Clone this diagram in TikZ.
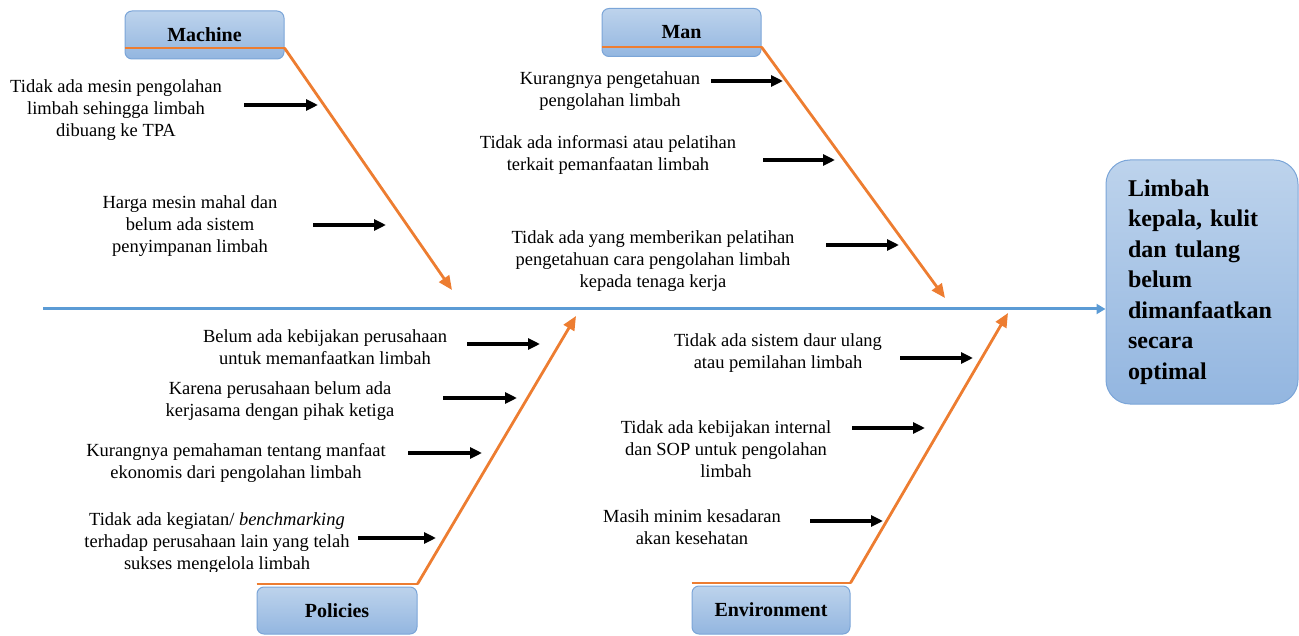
\documentclass[tikz,border=0pt]{standalone}
\usepackage{fontspec}
\setmainfont{Liberation Serif}
\newfontfamily\causefont{Liberation Serif}
\usetikzlibrary{arrows.meta}
\definecolor{boneOrange}{HTML}{ED7D31}
\definecolor{spineBlue}{HTML}{5B9BD5}
\definecolor{boxTop}{HTML}{BDD3EC}
\definecolor{boxBot}{HTML}{93B6E0}
\definecolor{boxLine}{HTML}{7BA5D8}
\begin{document}
\begin{tikzpicture}[x=1pt,y=-1pt,
  catbox/.style={draw=boxLine, line width=1pt, rounded corners=7pt, top color=boxTop, bottom color=boxBot,
    minimum width=159pt, minimum height=48pt, inner sep=0pt, font=\causefont\fontsize{20}{24}\selectfont\bfseries},
  effectbox/.style={draw=boxLine, line width=1pt, rounded corners=24pt, top color=boxTop, bottom color=boxBot,
    minimum width=190pt, minimum height=244pt, inner xsep=22pt, inner ysep=0pt, text width=148pt, align=left,
    font=\causefont\fontsize{24}{30.5}\selectfont\bfseries},
  cause/.style={align=center, inner sep=0pt, font=\causefont\fontsize{18.5}{22}\selectfont},
  bonebar/.style={draw=boneOrange, line width=2.8pt},
  bone/.style={draw=boneOrange, line width=2.8pt, -{Triangle[length=14pt,width=12pt]}},
  spine/.style={draw=spineBlue, line width=3pt, -{Triangle[length=9pt,width=10pt]}},
  causearrow/.style={draw=black, line width=3.2pt, -{Triangle[length=12pt,width=11pt]}}
]
\useasboundingbox (0,0) rectangle (1299,636);

% effect
\node[effectbox] (effect) at (1202,282) {Limbah\\kepala, kulit\\dan tulang\\belum\\dimanfaatkan\\secara\\optimal};

% spine
\coordinate (sp) at (43,309);
\draw[spine] (sp) -- (sp -| effect.west);

% category boxes
\node[catbox] (machine) at (204.5,35) {Machine};
\node[catbox] (man) at (681.5,32.5) {Man};
\node[catbox, minimum width=160pt, minimum height=47pt] (policies) at (337,610.5) {Policies};
\node[catbox, minimum width=158pt] (environment) at (771,610) {Environment};

% bone heads
\coordinate (machineHead) at (452,290);
\coordinate (manHead) at (945,298);
\coordinate (policiesHead) at (576,316);
\coordinate (environmentHead) at (1008,313);

% bones
\draw[bonebar] (machine.west |- 0,48) -- (machine.east |- 0,48);
\draw[bone] (machine.east |- 0,48) -- (machineHead);
\draw[bonebar] (man.west |- 0,47) -- (man.east |- 0,47);
\draw[bone] (man.east |- 0,47) -- (manHead);
\draw[bonebar] (policies.west |- 0,584) -- (policies.east |- 0,584);
\draw[bone] (policies.east |- 0,584) -- (policiesHead);
\draw[bonebar] (environment.west |- 0,583) -- (environment.east |- 0,583);
\draw[bone] (environment.east |- 0,583) -- (environmentHead);

% causes: Machine
\node[cause] (m1) at (116,110) {Tidak ada mesin pengolahan\\limbah sehingga limbah\\dibuang ke TPA};
\node[cause] (m2) at (190,226.5) {Harga mesin mahal dan\\belum ada sistem\\penyimpanan limbah};
% causes: Man
\node[cause] (n1) at (610,91) {Kurangnya pengetahuan\\pengolahan limbah};
\node[cause] (n2) at (608,155) {Tidak ada informasi atau pelatihan\\terkait pemanfaatan limbah};
\begin{scope}
  \clip (400,200) rectangle (900,291);
  \node[cause] (n3) at (653,261) {Tidak ada yang memberikan pelatihan\\pengetahuan cara pengolahan limbah\\kepada tenaga kerja};
\end{scope}
% causes: Policies
\node[cause] (p1) at (325,347.5) {Belum ada kebijakan perusahaan\\untuk memanfaatkan limbah};
\node[cause] (p2) at (280,401) {Karena perusahaan belum ada\\kerjasama dengan pihak ketiga};
\node[cause] (p3) at (236,463) {Kurangnya pemahaman tentang manfaat\\ekonomis dari pengolahan limbah};
\begin{scope}
  \clip (0,500) rectangle (400,571);
  \node[cause] (p4) at (217,543) {Tidak ada kegiatan/ \textit{benchmarking}\\terhadap perusahaan lain yang telah\\sukses mengelola limbah};
\end{scope}
% causes: Environment
\node[cause] (e1) at (778,353) {Tidak ada sistem daur ulang\\atau pemilahan limbah};
\node[cause] (e2) at (726,449) {Tidak ada kebijakan internal\\dan SOP untuk pengolahan\\limbah};
\node[cause] (e3) at (692,527) {Masih minim kesadaran\\akan kesehatan};

% cause arrows
\coordinate (m1s) at (244,105); \coordinate (m1e) at (318,105);
\coordinate (m2s) at (313,225); \coordinate (m2e) at (386,225);
\coordinate (n1s) at (711,81);  \coordinate (n1e) at (783,81);
\coordinate (n2s) at (763,160); \coordinate (n2e) at (835,160);
\coordinate (n3s) at (826,245); \coordinate (n3e) at (899,245);
\coordinate (p1s) at (467,344); \coordinate (p1e) at (540,344);
\coordinate (p2s) at (443,398); \coordinate (p2e) at (517,398);
\coordinate (p3s) at (408,453); \coordinate (p3e) at (482,453);
\coordinate (p4s) at (358,538); \coordinate (p4e) at (436,538);
\coordinate (e1s) at (900,358); \coordinate (e1e) at (973,358);
\coordinate (e2s) at (852,428); \coordinate (e2e) at (925,428);
\coordinate (e3s) at (810,521); \coordinate (e3e) at (883,521);
\foreach \a in {m1,m2,n1,n2,n3,p1,p2,p3,p4,e1,e2,e3}
  \draw[causearrow] (\a s) -- (\a e);
\end{tikzpicture}
\end{document}
